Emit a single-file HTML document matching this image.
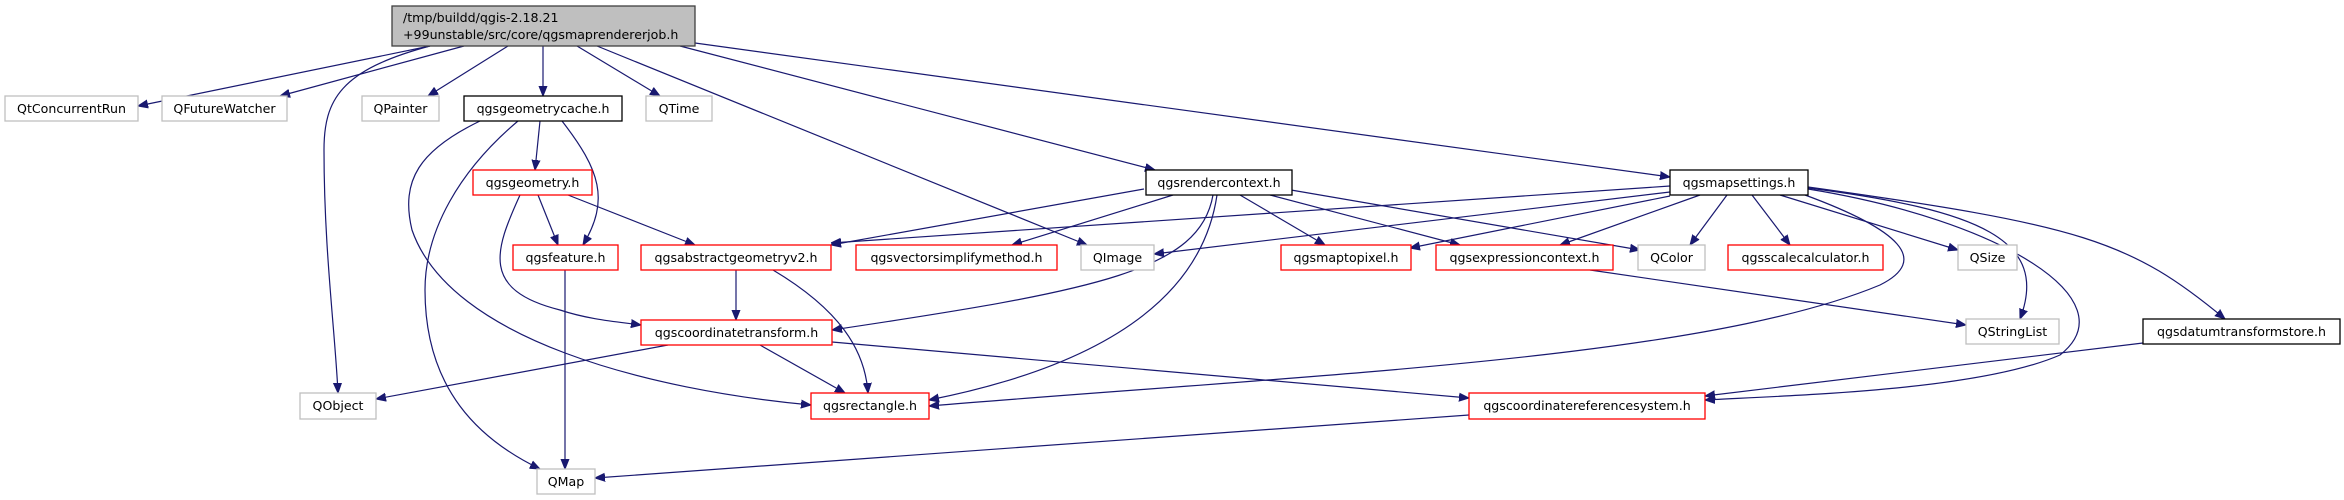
<!DOCTYPE html>
<html><head><meta charset="utf-8"><style>
html,body{margin:0;padding:0;background:#fff;}
svg{display:block;}
text{font-family:"DejaVu Sans","Liberation Sans",sans-serif;font-size:12.6px;fill:#000;}
.e{fill:none;stroke:#191970;stroke-width:1.2;}
.g{fill:#fff;stroke:#bfbfbf;stroke-width:1.3;}
.r{fill:#fff;stroke:#ff0000;stroke-width:1.3;}
.b{fill:#fff;stroke:#000;stroke-width:1.3;}
</style></head><body>
<svg width="2344" height="500" viewBox="0 0 2344 500" xmlns="http://www.w3.org/2000/svg">
<defs><marker id="a" viewBox="0 0 10 10" refX="10" refY="5" markerWidth="10" markerHeight="10" markerUnits="userSpaceOnUse" orient="auto"><path d="M0,1 L10,5 L0,9 z" fill="#191970" stroke="#191970"/></marker></defs>
<g marker-end="url(#a)">
<path class="e" d="M430,46 L138,106"/>
<path class="e" d="M464,46 L280,96"/>
<path class="e" d="M430,46 C340,70 324,100 324,150 C324,250 335,330 338,393"/>
<path class="e" d="M508,46 L428,96"/>
<path class="e" d="M543,46 L543,96"/>
<path class="e" d="M577,46 L660,96"/>
<path class="e" d="M597,46 L1087,245"/>
<path class="e" d="M680,46 L1155,170"/>
<path class="e" d="M695,43 L1670,177"/>
<path class="e" d="M540,121 L535,170"/>
<path class="e" d="M562,121 C600,170 610,200 583,245"/>
<path class="e" d="M518,121 C460,170 425,230 425,290 C425,390 480,440 540,469"/>
<path class="e" d="M480,121 C420,150 400,180 412,230 C450,340 650,390 811,405"/>
<path class="e" d="M538,195 L558,245"/>
<path class="e" d="M568,195 L695,245"/>
<path class="e" d="M520,195 C495,250 480,290 560,310 C590,320 620,322 641,325"/>
<path class="e" d="M565,270 L565,469"/>
<path class="e" d="M736,270 L736,320"/>
<path class="e" d="M773,270 C840,310 865,350 868,393"/>
<path class="e" d="M760,345 L845,393"/>
<path class="e" d="M668,345 L376,399"/>
<path class="e" d="M832,342 L1469,398"/>
<path class="e" d="M1144,189 L831,245"/>
<path class="e" d="M1173,195 L1012,245"/>
<path class="e" d="M1213,195 C1200,270 1100,290 832,330"/>
<path class="e" d="M1217,195 C1200,310 1080,370 929,400"/>
<path class="e" d="M1240,195 L1325,245"/>
<path class="e" d="M1270,195 L1460,245"/>
<path class="e" d="M1291,190 L1640,250"/>
<path class="e" d="M1670,186 L831,243"/>
<path class="e" d="M1670,192 L1154,254"/>
<path class="e" d="M1670,196 L1410,248"/>
<path class="e" d="M1700,195 L1560,245"/>
<path class="e" d="M1727,195 L1690,245"/>
<path class="e" d="M1752,195 L1790,245"/>
<path class="e" d="M1780,195 L1958,250"/>
<path class="e" d="M1808,188 C1980,210 2050,240 2020,319"/>
<path class="e" d="M1808,187 C2080,225 2130,240 2225,319"/>
<path class="e" d="M1808,189 C2000,220 2130,300 2060,355 C1980,390 1800,395 1705,400"/>
<path class="e" d="M1805,195 C1900,230 1930,260 1880,285 C1700,360 1300,375 929,406"/>
<path class="e" d="M1590,270 L1966,325"/>
<path class="e" d="M2143,343 L1705,396"/>
<path class="e" d="M1469,415 L595,478"/>
</g>
<rect x="392" y="6" width="303" height="40" fill="#bfbfbf" stroke="#404040" stroke-width="1.3"/>
<text x="403" y="22">/tmp/buildd/qgis-2.18.21</text>
<text x="403" y="39">+99unstable/src/core/qgsmaprendererjob.h</text>
<g text-anchor="middle">
<rect class="g" x="5" y="96" width="133" height="25"/><text x="71.5" y="113">QtConcurrentRun</text>
<rect class="g" x="162" y="96" width="125" height="25"/><text x="224.5" y="113">QFutureWatcher</text>
<rect class="g" x="362" y="96" width="77" height="25"/><text x="400.5" y="113">QPainter</text>
<rect class="b" x="464" y="96" width="158" height="25"/><text x="543" y="113">qgsgeometrycache.h</text>
<rect class="g" x="646" y="96" width="66" height="25"/><text x="679" y="113">QTime</text>
<rect class="g" x="300" y="393" width="76" height="26"/><text x="338" y="410">QObject</text>
<rect class="r" x="473" y="170" width="119" height="25"/><text x="532.5" y="187">qgsgeometry.h</text>
<rect class="r" x="513" y="245" width="105" height="25"/><text x="565.5" y="262">qgsfeature.h</text>
<rect class="r" x="641" y="245" width="190" height="25"/><text x="736" y="262">qgsabstractgeometryv2.h</text>
<rect class="r" x="856" y="245" width="201" height="25"/><text x="956.5" y="262">qgsvectorsimplifymethod.h</text>
<rect class="g" x="1081" y="245" width="73" height="25"/><text x="1117.5" y="262">QImage</text>
<rect class="b" x="1146" y="170" width="146" height="25"/><text x="1219" y="187">qgsrendercontext.h</text>
<rect class="b" x="1670" y="170" width="138" height="25"/><text x="1739" y="187">qgsmapsettings.h</text>
<rect class="r" x="1281" y="245" width="130" height="25"/><text x="1346" y="262">qgsmaptopixel.h</text>
<rect class="r" x="1436" y="245" width="177" height="25"/><text x="1524.5" y="262">qgsexpressioncontext.h</text>
<rect class="g" x="1638" y="245" width="67" height="25"/><text x="1671.5" y="262">QColor</text>
<rect class="r" x="1728" y="245" width="155" height="25"/><text x="1805.5" y="262">qgsscalecalculator.h</text>
<rect class="g" x="1958" y="245" width="59" height="25"/><text x="1987.5" y="262">QSize</text>
<rect class="r" x="641" y="320" width="191" height="25"/><text x="736.5" y="337">qgscoordinatetransform.h</text>
<rect class="g" x="1966" y="319" width="93" height="25"/><text x="2012.5" y="336">QStringList</text>
<rect class="b" x="2143" y="319" width="197" height="25"/><text x="2241.5" y="336">qgsdatumtransformstore.h</text>
<rect class="r" x="811" y="393" width="118" height="26"/><text x="870" y="410">qgsrectangle.h</text>
<rect class="r" x="1469" y="393" width="236" height="26"/><text x="1587" y="410">qgscoordinatereferencesystem.h</text>
<rect class="g" x="537" y="469" width="58" height="25"/><text x="566" y="486">QMap</text>
</g>
</svg>
</body></html>
